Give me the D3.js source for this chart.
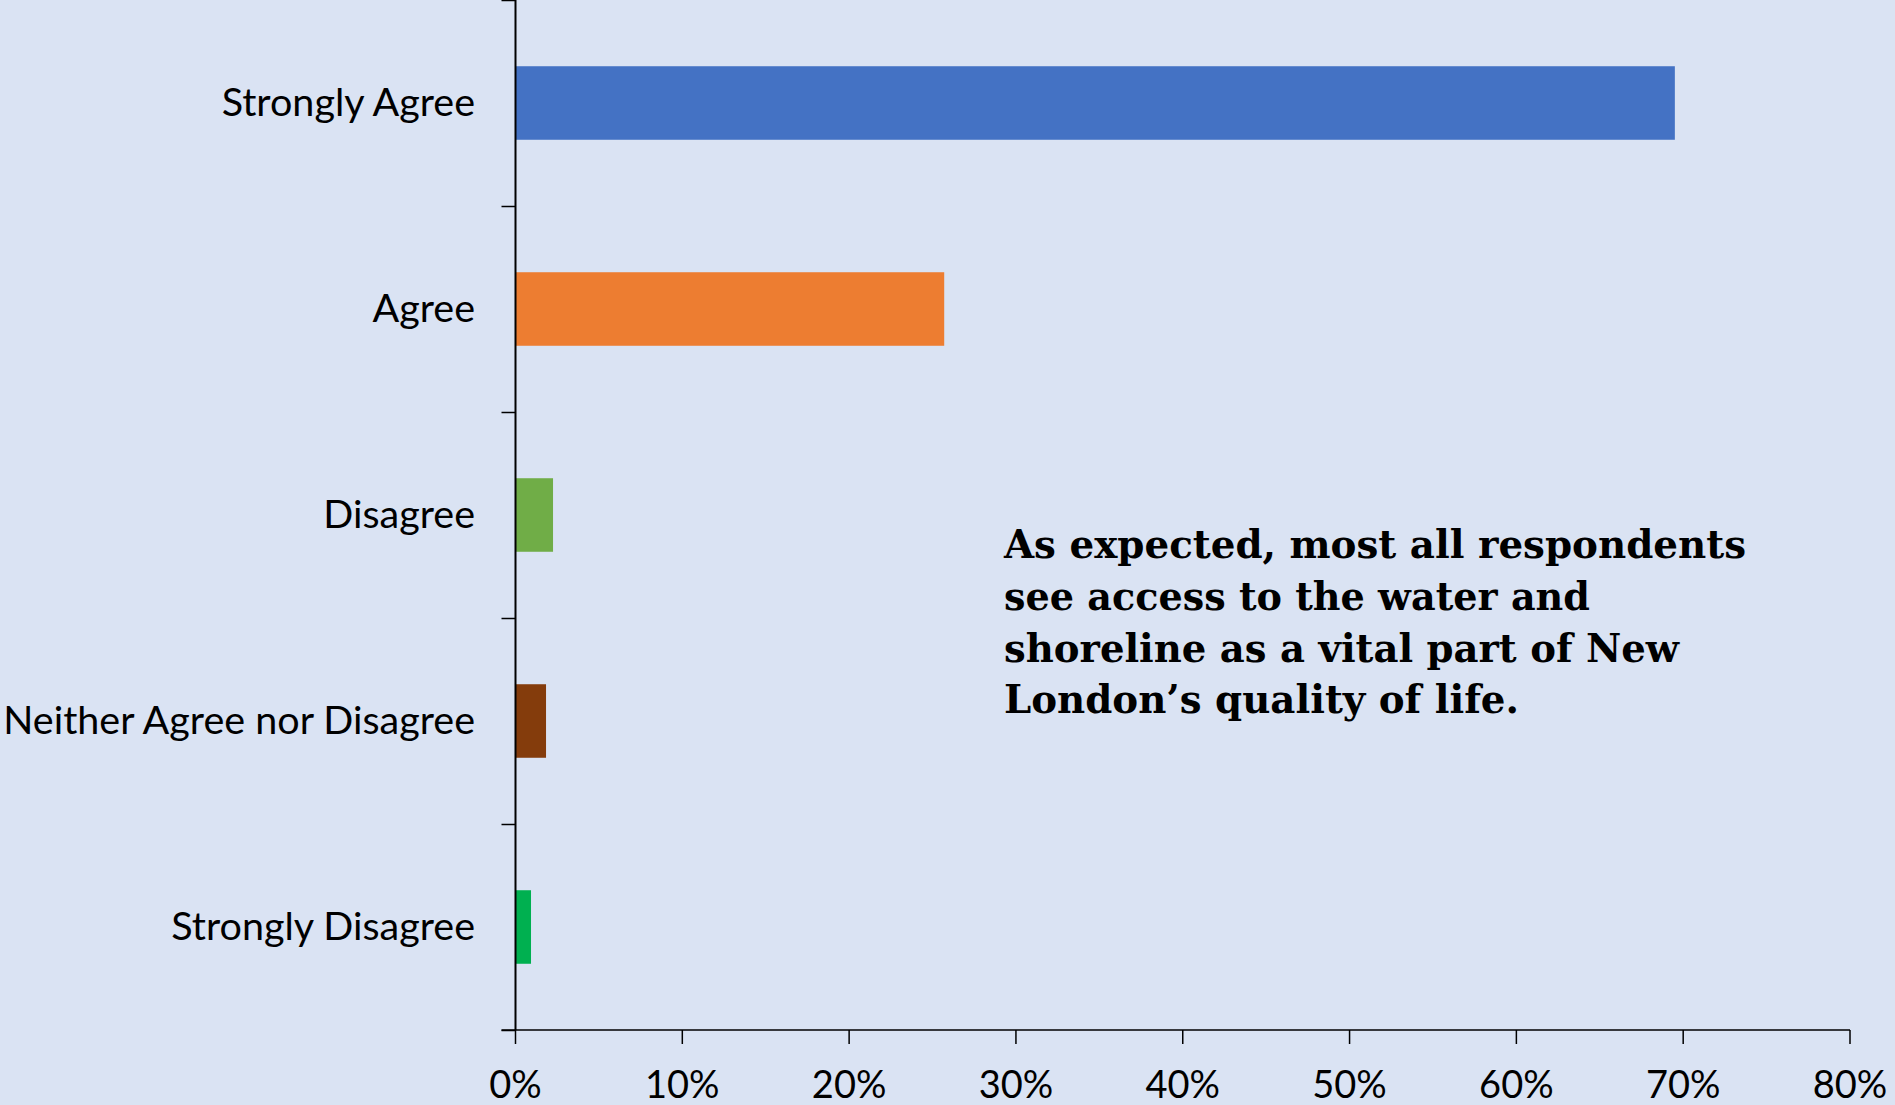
<!DOCTYPE html>
<html><head><meta charset="utf-8">
<script src="https://cdn.jsdelivr.net/npm/d3@7"></script>
<style>html,body{margin:0;padding:0;background:#DAE3F3;}svg{display:block;}</style>
</head><body>
<svg id="c" width="1895" height="1105"></svg>
<script>
const categories = ["Strongly Agree","Agree","Disagree","Neither Agree nor Disagree","Strongly Disagree"];
const values = [69.5, 25.7, 2.25, 1.83, 0.93];
const colors = ["#4472C4","#ED7D31","#70AD47","#843C0C","#00B050"];
const tickValues = [0,10,20,30,40,50,60,70,80];
const noteLines = ["As expected, most all respondents","see access to the water and","shoreline as a vital part of New","London\u2019s quality of life."];

const svg = d3.select("#c");
svg.append("rect").attr("width",1895).attr("height",1105).attr("fill","#DAE3F3");
const x0 = 515.5, x1 = 1850, yTop = 0, yBot = 1030;
const x = d3.scaleLinear().domain([0,80]).range([x0,x1]);
const y = d3.scaleBand().domain(categories).range([yTop,yBot]).paddingInner(0.643).paddingOuter(0.3215);
const yb = d3.scaleBand().domain(categories).range([yTop,yBot]);

svg.selectAll("rect.bar").data(categories).enter().append("rect")
  .attr("class","bar")
  .attr("x",x(0)).attr("y",d=>y(d))
  .attr("width",(d,i)=>x(values[i])-x(0)).attr("height",y.bandwidth())
  .attr("fill",(d,i)=>colors[i]);

// y axis
const gy = svg.append("g");
gy.append("line").attr("x1",x0).attr("x2",x0).attr("y1",yTop).attr("y2",yBot).attr("stroke","#000").attr("stroke-width",2);
const bounds = categories.map(c=>yb(c)).concat([yBot]);
gy.selectAll("line.t").data(bounds).enter().append("line").attr("class","t")
  .attr("x1",x0-14).attr("x2",x0).attr("y1",d=>d+0.5).attr("y2",d=>d+0.5).attr("stroke","#000").attr("stroke-width",1.5);
gy.selectAll("text").data(categories).enter().append("text")
  .attr("x",475).attr("y",d=>yb(d)+yb.bandwidth()/2 - 1)
  .attr("dy","0.35em").attr("text-anchor","end")
  .style("font-family","Lato, 'Open Sans', sans-serif").style("font-size","39.5px").attr("fill","#000")
  .text(d=>d);

// x axis
const gx = svg.append("g");
gx.append("line").attr("x1",x0-14).attr("x2",x1).attr("y1",yBot).attr("y2",yBot).attr("stroke","#000").attr("stroke-width",1.5);
gx.selectAll("line.t").data(tickValues).enter().append("line").attr("class","t")
  .attr("x1",d=>x(d)).attr("x2",d=>x(d)).attr("y1",yBot).attr("y2",yBot+14).attr("stroke","#000").attr("stroke-width",1.5);
gx.selectAll("text").data(tickValues).enter().append("text")
  .attr("x",d=>x(d)).attr("y",1098).attr("text-anchor","middle")
  .style("font-family","Lato, 'Open Sans', sans-serif").style("font-size","38px").attr("fill","#000")
  .text(d=>d+"%");

// annotation
const widths = [742, 586, 675, 515];
const baselines = [558, 610, 662, 713];
svg.selectAll("text.note").data(noteLines).enter().append("text").attr("class","note")
  .attr("x",1004).attr("y",(d,i)=>baselines[i])
  .attr("textLength",(d,i)=>widths[i]).attr("lengthAdjust","spacingAndGlyphs")
  .style("font-family","'DejaVu Serif', 'Liberation Serif', serif").style("font-weight","bold").style("font-size","40px").attr("fill","#000")
  .text(d=>d);
</script>
</body></html>
